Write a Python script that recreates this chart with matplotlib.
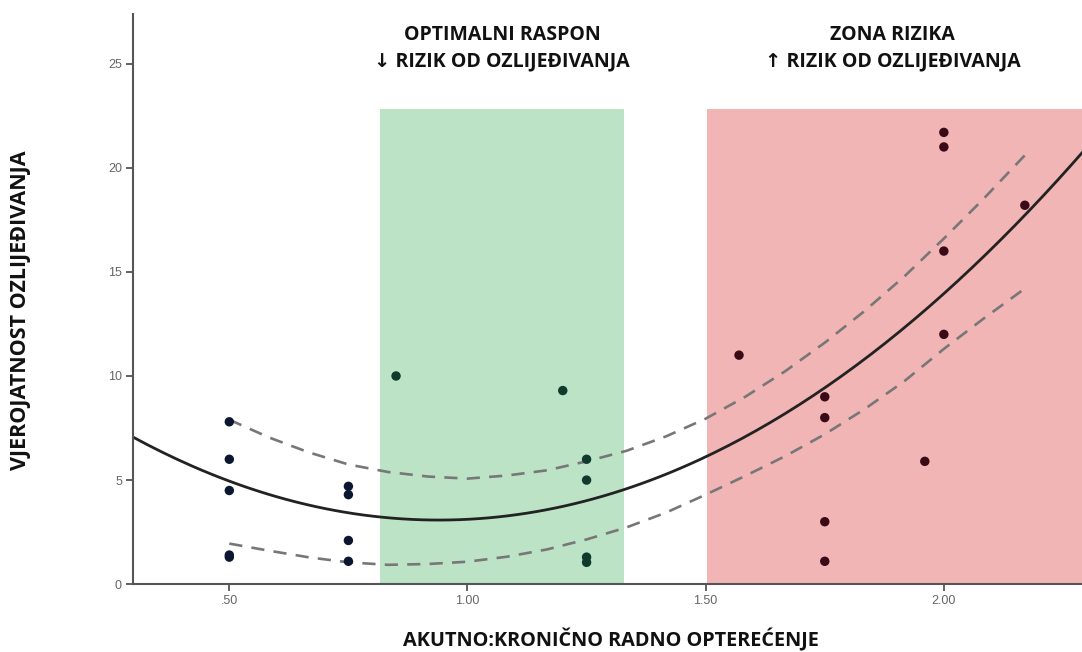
import numpy as np
import matplotlib.pyplot as plt

# scatter data
acwr = [0.50, 0.50, 0.50, 0.50, 0.50,
        0.75, 0.75, 0.75, 0.75,
        0.85, 1.20,
        1.25, 1.25, 1.25, 1.25,
        1.57,
        1.75, 1.75, 1.75, 1.75,
        1.96,
        2.00, 2.00, 2.00, 2.00,
        2.17]
rizik = [7.8, 6.0, 4.5, 1.4, 1.3,
         4.7, 4.3, 2.1, 1.1,
         10.0, 9.3,
         6.0, 5.0, 1.3, 1.05,
         11.0,
         9.0, 8.0, 3.0, 1.1,
         5.9,
         21.7, 21.0, 16.0, 12.0,
         18.2]

# dashed interval lines
band_x = [0.500, 0.583, 0.667, 0.750, 0.833, 0.917, 1.000, 1.083, 1.167, 1.250, 1.333,
          1.417, 1.500, 1.583, 1.667, 1.750, 1.833, 1.917, 2.000, 2.083, 2.170]
band_gore = [7.9, 7.05, 6.33, 5.75, 5.39, 5.17, 5.07, 5.22, 5.47, 5.9, 6.4,
             7.1, 7.95, 9.0, 10.23, 11.6, 13.11, 14.78, 16.6, 18.5, 20.6]
band_dolje = [1.95, 1.61, 1.29, 1.05, 0.93, 0.97, 1.08, 1.32, 1.67, 2.15, 2.72,
              3.44, 4.3, 5.2, 6.15, 7.2, 8.4, 9.75, 11.3, 12.75, 14.2]

zona_opt = (0.817, 1.328)
zona_rizik = (1.502, 2.40)
zona_vrh = 22.8

x_ticks = [0.5, 1.0, 1.5, 2.0]
x_tick_labels = ['.50', '1.00', '1.50', '2.00']
y_ticks = [0, 5, 10, 15, 20, 25]

x = np.array(acwr)
y = np.array(rizik)

# quadratic fit line
beta = np.polyfit(x, y, 2)
xs = np.linspace(0.3, 2.3, 200)
fit = np.polyval(beta, xs)

fig = plt.figure(figsize=(10.82, 6.52), dpi=100)
ax = fig.add_axes([0.123, 0.104, 0.877, 0.875])

ax.fill_between(zona_opt, 0, zona_vrh, color='#bde3c6', lw=0, zorder=0)
ax.fill_between(zona_rizik, 0, zona_vrh, color='#f2b5b5', lw=0, zorder=0)

ax.plot(xs, fit, color='#222222', lw=2.0, zorder=2)
crtkano = dict(color='#777777', lw=1.9, ls=(0, (5, 3.5)), zorder=2)
ax.plot(band_x, band_gore, **crtkano)
ax.plot(band_x, band_dolje, **crtkano)

boje = np.where(x >= zona_rizik[0], '#3a0a16',
                np.where((x >= zona_opt[0]) & (x <= zona_opt[1]), '#0f3a2c', '#0c1631'))
ax.scatter(x, y, s=46, c=boje, lw=0, zorder=3)

ax.set_xlim(0.298, 2.29)
ax.set_ylim(0, 27.4)
ax.set_xticks(x_ticks)
ax.set_xticklabels(x_tick_labels)
ax.set_yticks(y_ticks)
for sp in ['top', 'right']:
    ax.spines[sp].set_visible(False)
for sp in ['left', 'bottom']:
    ax.spines[sp].set_color('#555555')
    ax.spines[sp].set_linewidth(1.5)
ax.tick_params(length=5, width=1.3, color='#555555', labelcolor='#666666',
               labelsize=9, pad=3)
for lab in ax.get_xticklabels() + ax.get_yticklabels():
    lab.set_family('Liberation Sans')

naslov = dict(ha='center', va='center', fontsize=14, fontweight='bold',
              family=['Open Sans', 'DejaVu Sans'], color='#111111')
ax.text(sum(zona_opt) / 2, 26.4, 'OPTIMALNI RASPON', **naslov)
ax.text(sum(zona_opt) / 2, 25.1, '↓ RIZIK OD OZLIJEĐIVANJA', **naslov)
ax.text(1.893, 26.4, 'ZONA RIZIKA', **naslov)
ax.text(1.893, 25.1, '↑ RIZIK OD OZLIJEĐIVANJA', **naslov)

fig.text(0.565, 0.018, 'AKUTNO:KRONIČNO RADNO OPTEREĆENJE', ha='center', va='center',
         fontsize=14.3, fontweight='bold', family='Open Sans', color='#111111')
fig.text(0.019, 0.525, 'VJEROJATNOST OZLIJEĐIVANJA', rotation=90, ha='center', va='center',
         fontsize=15.5, fontweight='bold', family='Open Sans', color='#111111')

fig.savefig('out.png', dpi=100)
